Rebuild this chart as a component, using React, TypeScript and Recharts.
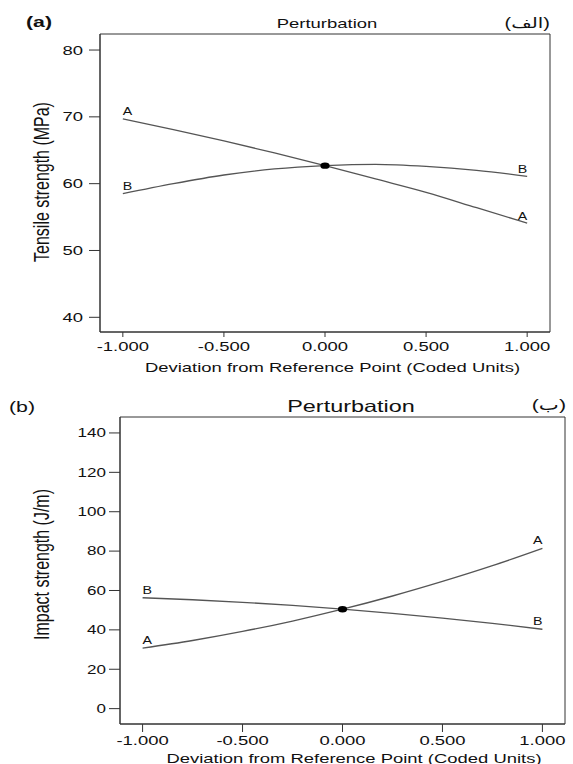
import React from 'react';
import { LineChart, Line, XAxis, YAxis, ReferenceArea, ReferenceDot, LabelList } from 'recharts';

// ---- data ----
const deviation = [-1, -0.75, -0.5, -0.25, 0, 0.25, 0.5, 0.75, 1];
const tensileA = [69.7, 68.1, 66.4, 64.6, 62.7, 60.7, 58.7, 56.4, 54.1];
const tensileB = [58.5, 60.0, 61.3, 62.2, 62.7, 62.9, 62.6, 62.0, 61.1];
const impactA = [30.7, 34.6, 39.2, 44.5, 50.5, 57.2, 64.6, 72.6, 81.4];
const impactB = [56.3, 55.3, 54.0, 52.4, 50.5, 48.4, 46.0, 43.3, 40.3];
const xTicks = [-1, -0.5, 0, 0.5, 1];
const tensileTicks = [40, 50, 60, 70, 80];
const impactTicks = [0, 20, 40, 60, 80, 100, 120, 140];
const seriesNames = ['A', 'B'];

const X_DOMAIN: [number, number] = [-1.113, 1.113];
const TENSILE_DOMAIN: [number, number] = [37.8, 82.4];
const IMPACT_DOMAIN: [number, number] = [-7.8, 148.1];

const tensileData = deviation.map((x, i) => ({ x, A: tensileA[i], B: tensileB[i] }));
const impactData = deviation.map((x, i) => ({ x, A: impactA[i], B: impactB[i] }));
const centerIdx = deviation.indexOf(0);

const SX = 1.42;
const FONT = '"Liberation Sans", Arial, "DejaVu Sans", sans-serif';
const TXT = '#111';
const LINE = '#555';
const AXIS = '#333';

const StretchTick = (props: any) => {
  const { x, y, payload, anchor, dy, fontSize, fmt } = props;
  return (
    <g transform={`translate(${x},${y}) scale(${SX},1)`}>
      <text x={0} y={0} textAnchor={anchor} dy={dy} fontSize={fontSize} fontFamily={FONT} fill={TXT}>
        {fmt(payload.value)}
      </text>
    </g>
  );
};

const endLabel = (name: string, count: number, fontSize: number, lift: number) => (props: any) => {
  const index = props.index;
  const x = props.x ?? props.viewBox?.x;
  const y = props.y ?? props.viewBox?.y;
  if (index !== 0 && index !== count - 1) return null;
  return (
    <g key={`${name}-${index}`} transform={`translate(${x},${y - lift}) scale(${SX},1)`}>
      <text x={0} y={0} textAnchor={index === 0 ? 'start' : 'end'} fontSize={fontSize} fontFamily={FONT} fill={TXT}>
        {name}
      </text>
    </g>
  );
};

const dotShape = (props: any) => (
  <ellipse cx={props.cx} cy={props.cy} rx={4.6} ry={3.2} fill="#000" />
);

const fmtX = (v: number) => v.toFixed(3);
const fmtY = (v: number) => String(v);

const STxt = ({ x, y, size, anchor = 'middle', weight = 'normal', children }: any) => (
  <g transform={`translate(${x},${y}) scale(${SX},1)`}>
    <text x={0} y={0} textAnchor={anchor} fontSize={size} fontWeight={weight} fontFamily={FONT} fill={TXT}>
      {children}
    </text>
  </g>
);

const RotTxt = ({ x, y, size, children }: any) => (
  <g transform={`translate(${x},${y}) scale(${SX},1) rotate(-90)`}>
    <text x={0} y={0} textAnchor="middle" fontSize={size} fontFamily={FONT} fill={TXT}>
      {children}
    </text>
  </g>
);

export default function App() {
  return (
    <div style={{ position: 'absolute', left: 0, top: 0, width: 573, height: 764, background: '#fff' }}>
      <div style={{ position: 'absolute', left: 0, top: 0 }}>
        <LineChart width={573} height={380} data={tensileData} margin={{ top: 34, right: 23, left: 0, bottom: 8 }}>
          <XAxis
            type="number"
            dataKey="x"
            domain={X_DOMAIN}
            ticks={xTicks}
            allowDataOverflow
            height={40}
            tickSize={5}
            tickMargin={5}
            stroke={AXIS}
            tickLine={{ stroke: AXIS }}
            tick={(p: any) => <StretchTick {...p} anchor="middle" dy="0.71em" fontSize={13} fmt={fmtX} />}
          />
          <YAxis
            type="number"
            domain={TENSILE_DOMAIN}
            ticks={tensileTicks}
            allowDataOverflow
            width={100}
            tickSize={11}
            tickMargin={6}
            stroke={AXIS}
            tickLine={{ stroke: AXIS }}
            tick={(p: any) => <StretchTick {...p} anchor="end" dy="0.355em" fontSize={13} fmt={fmtY} />}
          />
          <ReferenceArea x1={X_DOMAIN[0]} x2={X_DOMAIN[1]} y1={TENSILE_DOMAIN[0]} y2={TENSILE_DOMAIN[1]} fill="none" stroke={AXIS} strokeWidth={1} />
          {seriesNames.map((s) => (
            <Line key={s} type="monotone" dataKey={s} stroke={LINE} strokeWidth={1.3} dot={false} isAnimationActive={false}>
              <LabelList dataKey={s} content={endLabel(s, deviation.length, 10, 3.5)} />
            </Line>
          ))}
          <ReferenceDot x={deviation[centerIdx]} y={tensileA[centerIdx]} shape={dotShape} />
        </LineChart>
      </div>
      <div style={{ position: 'absolute', left: 0, top: 380 }}>
        <LineChart width={573} height={384} data={impactData} margin={{ top: 37, right: 8, left: 0, bottom: 8 }}>
          <XAxis
            type="number"
            dataKey="x"
            domain={X_DOMAIN}
            ticks={xTicks}
            allowDataOverflow
            height={32}
            tickSize={8}
            tickMargin={4}
            stroke={AXIS}
            tickLine={{ stroke: AXIS }}
            tick={(p: any) => <StretchTick {...p} anchor="middle" dy="0.71em" fontSize={13} fmt={fmtX} />}
          />
          <YAxis
            type="number"
            domain={IMPACT_DOMAIN}
            ticks={impactTicks}
            allowDataOverflow
            width={120}
            tickSize={11}
            tickMargin={3}
            stroke={AXIS}
            tickLine={{ stroke: AXIS }}
            tick={(p: any) => <StretchTick {...p} anchor="end" dy="0.355em" fontSize={12} fmt={fmtY} />}
          />
          <ReferenceArea x1={X_DOMAIN[0]} x2={X_DOMAIN[1]} y1={IMPACT_DOMAIN[0]} y2={IMPACT_DOMAIN[1]} fill="none" stroke={AXIS} strokeWidth={1} />
          {seriesNames.map((s) => (
            <Line key={s} type="monotone" dataKey={s} stroke={LINE} strokeWidth={1.3} dot={false} isAnimationActive={false}>
              <LabelList dataKey={s} content={endLabel(s, deviation.length, 10, 4)} />
            </Line>
          ))}
          <ReferenceDot x={deviation[centerIdx]} y={impactA[centerIdx]} shape={dotShape} />
        </LineChart>
      </div>
      <svg width={573} height={764} style={{ position: 'absolute', left: 0, top: 0, pointerEvents: 'none' }}>
        <STxt x={26} y={27} size={15} anchor="start" weight="bold">(a)</STxt>
        <STxt x={327} y={28} size={13}>Perturbation</STxt>
        <STxt x={550} y={28} size={14} anchor="end">(الف)</STxt>
        <STxt x={332.5} y={371.5} size={13}>Deviation from Reference Point (Coded Units)</STxt>
        <RotTxt x={48.5} y={182} size={16}>Tensile strength (MPa)</RotTxt>

        <STxt x={9} y={412} size={15} anchor="start">(b)</STxt>
        <STxt x={351} y={412} size={16.5}>Perturbation</STxt>
        <STxt x={566} y={410} size={15} anchor="end">(ب)</STxt>
        <STxt x={354} y={763} size={13}>Deviation from Reference Point (Coded Units)</STxt>
        <RotTxt x={48.5} y={564.5} size={16}>Impact strength (J/m)</RotTxt>
      </svg>
    </div>
  );
}
